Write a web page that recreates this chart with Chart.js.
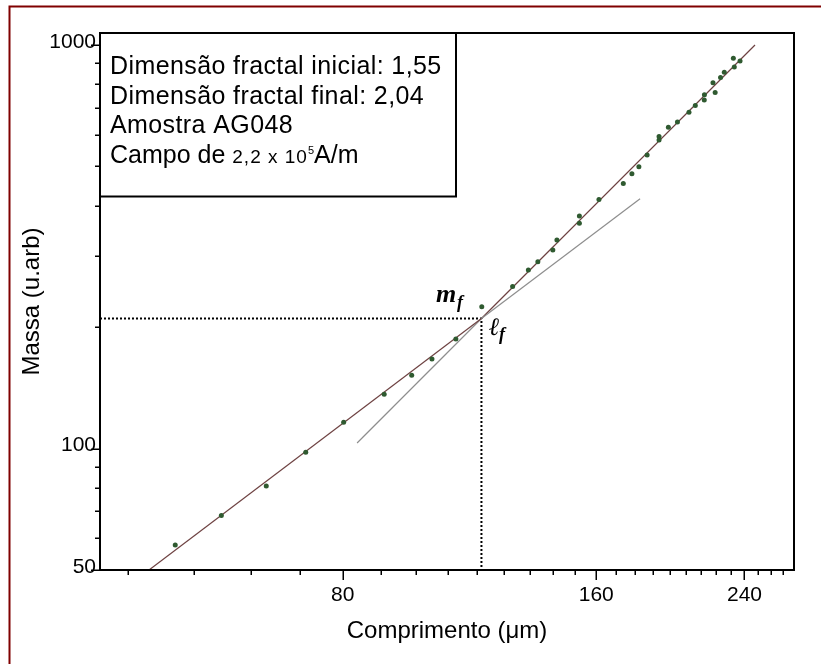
<!DOCTYPE html>
<html>
<head>
<meta charset="utf-8">
<style>
  html, body { margin: 0; padding: 0; background: #fff; }
  canvas { display: block; }
</style>
<script src="https://cdn.jsdelivr.net/npm/chart.js@4.4.0/dist/chart.umd.min.js"></script>
</head>
<body>
<canvas id="c" width="821" height="664"></canvas>
<script>
// ---- data ----
const comprimento = [50.6, 57.4, 64.9, 72.3, 80.2, 89.6, 96.6, 102.1, 109.0, 117.0,
  127.3, 132.9, 136.4, 142.1, 143.7, 152.8, 152.8, 161.2, 172.3, 176.4,
  179.8, 183.9, 190.0, 190.0, 194.9, 199.8, 206.2, 209.8, 215.1, 215.0,
  220.2, 221.5, 224.8, 227.1, 232.8, 233.4, 237.1];
const massa = [57.7, 68.2, 80.8, 97.9, 116.1, 136.3, 151.9, 166.7, 186.8, 224.7,
  252.0, 277.0, 290.4, 310.5, 328.7, 376.9, 361.5, 414.2, 453.8, 479.6,
  499.4, 533.9, 593.3, 581.6, 625.6, 644.5, 681.2, 708.2, 753.3, 730.9,
  806.5, 762.8, 830.8, 856.3, 927.6, 882.1, 912.9];

// fitted straight lines (end points)
const ajusteInicialX = [47.1, 116.9, 180.4];
const ajusteInicialY = [50, 210, 416.1];
const ajusteFinalX = [83.2, 116.9, 247.0];
const ajusteFinalY = [103.2, 210, 1000];
const lf = 116.9;   // crossover length
const mf = 210;     // crossover mass

// axes
const xMin = 41.19, xMax = 274.8;
const yMin = 50, yMax = 1071;
const xMajorTicks = [80, 160, 240];
const xMinorDivisions = 9;          // minor ticks per 80 units
const yMajorTicks = [50, 100, 1000];
const yMinorTicks = [60, 70, 80, 90, 200, 300, 400, 500, 600, 700, 800, 900];

const legendLines = ['Dimensão fractal inicial: 1,55', 'Dimensão fractal final: 2,04', 'Amostra AG048'];

// ---- build tick lists ----
const xTicks = [];
for (let k = 5; k <= 30; k++) xTicks.push((k * 80) / xMinorDivisions);
const yTicks = yMajorTicks.concat(yMinorTicks).sort((a, b) => a - b);

const FONT = "'Liberation Sans', Arial, Helvetica, sans-serif";
const SERIF = "'Liberation Serif', 'Times New Roman', serif";
const darkFit = '#6e4242';
const lightFit = '#8e8e8e';

const decor = {
  id: 'decor',
  beforeDraw(chart) {
    const ctx = chart.ctx;
    ctx.save();
    ctx.fillStyle = '#fff';
    ctx.fillRect(0, 0, chart.width, chart.height);
    ctx.strokeStyle = '#800000';
    ctx.lineWidth = 2;
    ctx.beginPath();
    ctx.moveTo(9.5, chart.height);
    ctx.lineTo(9.5, 6.5);
    ctx.lineTo(chart.width, 6.5);
    ctx.stroke();
    ctx.restore();
  },
  afterDraw(chart) {
    const ctx = chart.ctx;
    const a = chart.chartArea;
    const xs = chart.scales.x, ys = chart.scales.y;
    ctx.save();
    // frame
    ctx.strokeStyle = '#000';
    ctx.lineWidth = 2;
    ctx.strokeRect(a.left, a.top, a.right - a.left, a.bottom - a.top);
    // tick marks
    ctx.lineWidth = 1.5;
    xs.ticks.forEach(t => {
      const p = Math.round(xs.getPixelForValue(t.value)) + 0.25;
      const L = t.major ? 10 : 5;
      ctx.beginPath(); ctx.moveTo(p, a.bottom); ctx.lineTo(p, a.bottom + L); ctx.stroke();
    });
    ys.ticks.forEach(t => {
      const p = Math.round(ys.getPixelForValue(t.value)) + 0.25;
      const L = t.major ? 9 : 5;
      ctx.beginPath(); ctx.moveTo(a.left, p); ctx.lineTo(a.left - L, p); ctx.stroke();
    });
    // annotation box
    const bx = a.left, by = a.top, bw = 356, bh = 163.5;
    ctx.fillStyle = '#fff';
    ctx.fillRect(bx, by, bw, bh);
    ctx.lineWidth = 2;
    ctx.strokeRect(bx, by, bw, bh);
    ctx.fillStyle = '#000';
    ctx.textBaseline = 'alphabetic';
    ctx.textAlign = 'left';
    ctx.font = '25px ' + FONT;
    const baselines = [74, 103.6, 133.3, 163];
    if ('letterSpacing' in ctx) ctx.letterSpacing = '0.4px';
    legendLines.forEach((s, i) => ctx.fillText(s, 110, baselines[i]));
    if ('letterSpacing' in ctx) ctx.letterSpacing = '0px';
    let cx = 110;
    ctx.fillText('Campo de ', cx, baselines[3]);
    cx += ctx.measureText('Campo de ').width;
    ctx.font = '19px ' + FONT;
    if ('letterSpacing' in ctx) ctx.letterSpacing = '1px';
    ctx.fillText('2,2 x 10', cx, baselines[3]);
    cx += ctx.measureText('2,2 x 10').width;
    if ('letterSpacing' in ctx) ctx.letterSpacing = '0px';
    ctx.font = '11px ' + FONT;
    ctx.fillText('5', cx, baselines[3] - 9);
    cx += ctx.measureText('5').width;
    ctx.font = '25px ' + FONT;
    ctx.fillText('A/m', cx, baselines[3]);
    // crossover labels
    ctx.font = 'bold italic 26px ' + SERIF;
    ctx.fillText('m', 436, 302);
    ctx.font = 'bold italic 18px ' + SERIF;
    ctx.fillText('f', 457, 308);
    ctx.font = "bold italic 25px 'DejaVu Serif', " + SERIF;
    ctx.fillText('ℓ', 489, 335);
    ctx.font = 'bold italic 18px ' + SERIF;
    ctx.fillText('f', 499, 340);
    ctx.restore();
  }
};

new Chart(document.getElementById('c'), {
  type: 'scatter',
  data: {
    datasets: [
      {
        label: 'Dados',
        data: comprimento.map((x, i) => ({ x: x, y: massa[i] })),
        showLine: false,
        pointRadius: 2.5,
        pointBackgroundColor: '#2f5a30',
        pointBorderWidth: 0,
        order: 0
      },
      {
        label: 'Ajuste inicial (1,55)',
        data: ajusteInicialX.map((x, i) => ({ x: x, y: ajusteInicialY[i] })),
        showLine: true,
        pointRadius: 0,
        borderWidth: 1.2,
        borderColor: darkFit,
        segment: { borderColor: c => c.p0DataIndex === 0 ? darkFit : lightFit },
        order: 1
      },
      {
        label: 'Ajuste final (2,04)',
        data: ajusteFinalX.map((x, i) => ({ x: x, y: ajusteFinalY[i] })),
        showLine: true,
        pointRadius: 0,
        borderWidth: 1.2,
        borderColor: darkFit,
        segment: { borderColor: c => c.p0DataIndex === 0 ? lightFit : darkFit },
        order: 2
      },
      {
        label: 'lf / mf',
        data: [{ x: xMin, y: mf }, { x: lf, y: mf }, { x: lf, y: yMin }],
        showLine: true,
        pointRadius: 0,
        borderColor: '#000',
        borderWidth: 2,
        borderDash: [2, 2],
        order: 3
      }
    ]
  },
  options: {
    responsive: false,
    animation: false,
    devicePixelRatio: 1,
    layout: { padding: { left: 0, top: 33, right: 27, bottom: 0 } },
    plugins: { legend: { display: false }, tooltip: { enabled: false } },
    scales: {
      x: {
        type: 'logarithmic',
        position: 'bottom',
        min: xMin,
        max: xMax,
        afterBuildTicks: s => { s.ticks = xTicks.map(v => ({ value: v, major: xMajorTicks.includes(v) })); },
        afterFit: s => { s.height = 94; },
        grid: { display: false, drawTicks: false },
        border: { display: true, color: '#000', width: 2 },
        ticks: {
          autoSkip: false, maxRotation: 0, minRotation: 0, padding: 13, color: '#000',
          font: { family: FONT, size: 21 },
          callback: (v, i, t) => (t[i] && t[i].major) ? String(v) : ''
        },
        title: {
          display: true, text: 'Comprimento (μm)', color: '#000',
          font: { family: FONT, size: 24 }, padding: { top: 0, bottom: 18 }
        }
      },
      y: {
        type: 'logarithmic',
        position: 'left',
        min: yMin,
        max: yMax,
        afterBuildTicks: s => { s.ticks = yTicks.map(v => ({ value: v, major: yMajorTicks.includes(v) })); },
        afterFit: s => { s.width = 100; },
        grid: { display: false, drawTicks: false },
        border: { display: true, color: '#000', width: 2 },
        ticks: {
          autoSkip: false, padding: 4, labelOffset: -3, color: '#000',
          font: { family: FONT, size: 21 },
          callback: (v, i, t) => (t[i] && t[i].major) ? String(v) : ''
        },
        title: {
          display: true, text: 'Massa (u.arb)', color: '#000',
          font: { family: FONT, size: 24 }, padding: { top: 18, bottom: 0 }
        }
      }
    }
  },
  plugins: [decor]
});
</script>
</body>
</html>
